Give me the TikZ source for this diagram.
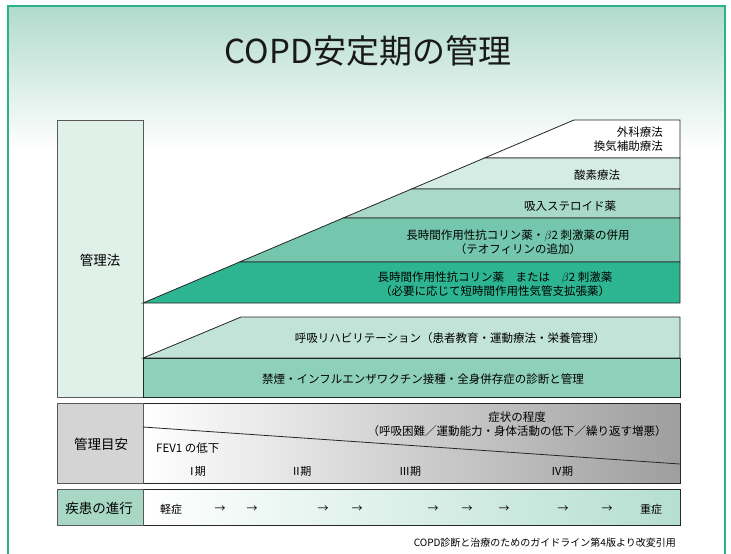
\documentclass[tikz,border=0pt]{standalone}
\usepackage{fontspec}
\setmainfont{Noto Sans CJK JP}
\usepackage{xcolor}
\usetikzlibrary{calc,positioning}
\definecolor{frameG}{HTML}{2BB28C}
\definecolor{bgG}{HTML}{B1DBCC}
\definecolor{stepB}{HTML}{D5ECE4}
\definecolor{stepC}{HTML}{A8D9C9}
\definecolor{stepD}{HTML}{74C6AD}
\definecolor{stepE}{HTML}{2DB592}
\definecolor{rehaG}{HTML}{C2E4D8}
\definecolor{kinenG}{HTML}{8FD0BB}
\definecolor{kanriG}{HTML}{E0F1EA}
\definecolor{meyasuG}{HTML}{D4D4D4}
\definecolor{shinkoG}{HTML}{A8D8C5}
\definecolor{shinkoR}{HTML}{B5DFD0}
\tikzset{
   row/.style={draw=black!85, line width=0.8pt, line join=miter},
   head/.style={draw=black!65, line width=1pt},
   rowtxt/.style={font=\fontsize{11.5}{14.5}\selectfont, align=center, inner sep=0pt},
   headtxt/.style={font=\fontsize{13.5}{16}\selectfont, inner sep=0pt},
   stagetxt/.style={font=\fontsize{11}{13}\selectfont, inner sep=0pt},
   titletxt/.style={font=\fontsize{33}{36}\selectfont, inner sep=0pt},
}

\begin{document}
\begin{tikzpicture}[x=1pt,y=-1pt]
\useasboundingbox (0,0) rectangle (731,554);
\clip (0,0) rectangle (731,554);
\fill[top color=bgG, bottom color=white] (8,6) rectangle (725,150);
\draw[frameG, line width=1.2pt] (8,560) -- (8,6) -- (725,6) -- (725,560);

\node[titletxt, text=black!90] (title) at (368,51) {COPD安定期の管理};

% 管理法
\coordinate (d0) at (143,303);
\coordinate (d1) at (574,120);
\draw[head, fill=kanriG] (57,120) rectangle (143,397);
\filldraw[row, fill=white] (d1) -- (680,120) -- (680,158) -- ($(d0)!0.792!(d1)$) -- cycle;
\filldraw[row, fill=stepB] ($(d0)!0.792!(d1)$) -- (680,158) -- (680,189) -- ($(d0)!0.623!(d1)$) -- cycle;
\filldraw[row, fill=stepC] ($(d0)!0.623!(d1)$) -- (680,189) -- (680,218) -- ($(d0)!0.464!(d1)$) -- cycle;
\filldraw[row, fill=stepD] ($(d0)!0.464!(d1)$) -- (680,218) -- (680,262) -- ($(d0)!0.224!(d1)$) -- cycle;
\filldraw[row, fill=stepE] ($(d0)!0.224!(d1)$) -- (680,262) -- (680,303) -- (d0) -- cycle;
\filldraw[row, fill=rehaG] (143,358) -- (241,317) -- (680,317) -- (680,358) -- cycle;
\filldraw[row, fill=kinenG] (143,358) rectangle (680,397);

\node[headtxt] (kanri) at (100,260) {管理法};
\begin{scope}[every node/.style={rowtxt}]
  \node[anchor=east, align=right] (geka) at (663,139) {外科療法\\換気補助療法};
  \node (sanso) at (597,175) {酸素療法};
  \node (kyunyu) at (570,206) {吸入ステロイド薬};
  \node (heiyo) at (518,242) {長時間作用性抗コリン薬・$\beta$2 刺激薬の併用\\（テオフィリンの追加）};
  \node (mataha) at (495,284) {長時間作用性抗コリン薬　または　$\beta$2 刺激薬\\（必要に応じて短時間作用性気管支拡張薬）};
  \node (reha) at (450,338) {呼吸リハビリテーション（患者教育・運動療法・栄養管理）};
  \node (kinen) at (423,379) {禁煙・インフルエンザワクチン接種・全身併存症の診断と管理};
\end{scope}

% 管理目安
\draw[row, left color=white, right color=black!38] (143,403) rectangle (680,483);
\draw[head, fill=meyasuG] (57,403) rectangle (143,483);
\coordinate (s0) at (143,427);
\coordinate (s1) at (680,464);
\draw[row] (s0) -- (s1);
\node[headtxt] (meyasu) at (101,444) {管理目安};
\node[rowtxt] (shojo) at (517,424) {症状の程度\\（呼吸困難／運動能力・身体活動の低下／繰り返す増悪）};
\node[rowtxt, anchor=west] (fev) at (156,448) {FEV1 の低下};
\foreach \k/\kk/\sx in {Ⅰ/-2.5/196,Ⅱ/-1.5/301,Ⅲ/0/410,Ⅳ/0/562}
  \node[stagetxt] (stage\sx) at (\sx,471) {{\k}\kern\kk pt期};

% 疾患の進行
\draw[row, left color=white, right color=shinkoR] (143,489) rectangle (680,525);
\draw[head, fill=shinkoG] (57,489) rectangle (143,525);
\node[headtxt] (shinko) at (99,508) {疾患の進行};
\node[stagetxt] (kei) at (171,509) {軽症};
\node[stagetxt] (ju) at (651,509) {重症};
\foreach \ax [count=\i] in {220,252,323,357,433,467,504,563,607}
  \node[stagetxt] (arr\i) at (\ax,509) {→};

\node[font=\fontsize{10}{12}\selectfont, anchor=east, inner sep=0pt] (source) at (676,543) {COPD診断と治療のためのガイドライン第4版より改変引用};
\end{tikzpicture}
\end{document}
